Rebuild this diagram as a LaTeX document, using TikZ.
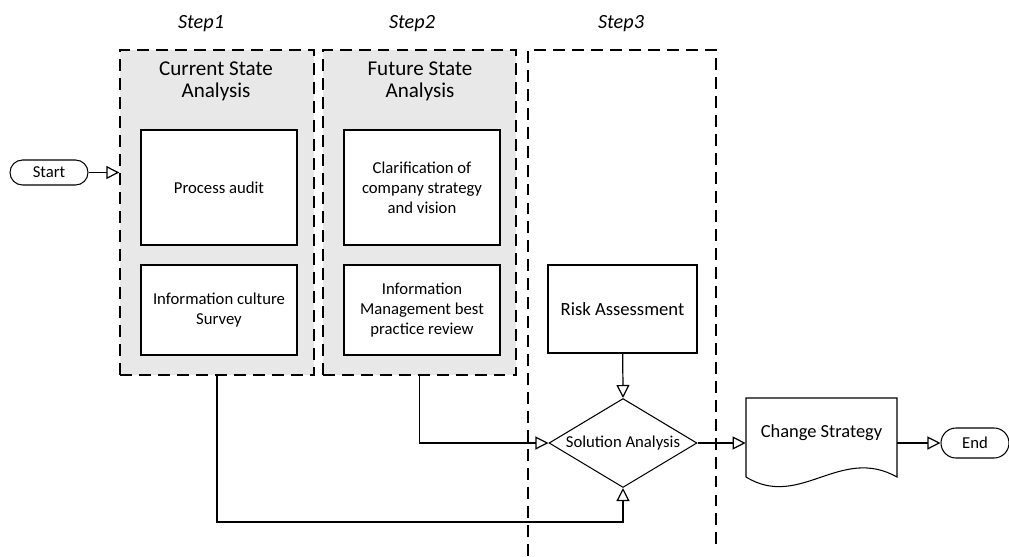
\documentclass[tikz,border=0pt]{standalone}
\usepackage{fontspec}
\setmainfont{Carlito}
\usetikzlibrary{shapes.geometric, arrows.meta}
\definecolor{panelgray}{RGB}{232,232,232}
\begin{document}
\begin{tikzpicture}[x = 0.02cm, y = -0.02cm,
    panel/.style = {draw, fill = panelgray, line width = 1.1pt, dash pattern = on 6.8pt off 4pt, inner sep = 0pt, minimum width = 3.87cm, minimum height = 6.5cm},
    dashline/.style = {line width = 1.1pt, dash pattern = on 6.8pt off 4pt},
    task/.style = {draw, fill = white, line width = 0.9pt, inner sep = 0pt, align = center, minimum width = 3.12cm, font = \fontsize{9.5}{11.3}\selectfont},
    terminal/.style = {draw, line width = 0.6pt, inner sep = 0pt, font = \fontsize{9.5}{11}\selectfont},
    arr/.style = {line width = 0.7pt, -{Triangle[open, length = 0.26cm, width = 0.26cm]}},
    steplabel/.style = {anchor = base, font = \fontsize{11.5}{13}\selectfont\itshape},
    heading/.style = {align = center, font = \fontsize{12}{12.5}\selectfont}]
    \useasboundingbox (0, 0) rectangle (1009, 556);
    % panels
    \node [panel] (cur) at (217, 212.5) {};
    \node [panel] (fut) at (419.5, 212.5) {};
    \draw [dashline] (528, 556) -- (528, 50) -- (716, 50) -- (716, 550);
    \node [steplabel] (s1) at (201, 28.5) {Step1};
    \node [steplabel] (s2) at (412, 28.5) {Step2};
    \node [steplabel] (s3) at (621, 28.5) {Step3};
    \node [heading] (curtitle) at (216, 81) {Current State\\Analysis};
    \node [heading] (futtitle) at (420, 81) {Future State\\Analysis};
    % tasks
    \node [task, minimum height = 2.3cm] (audit) at (219, 187.5) {Process audit};
    \node [task, minimum height = 1.8cm] (survey) at (219, 310) {Information culture\\Survey};
    \node [task, minimum height = 2.3cm] (vision) at (422, 187.5) {Clarification of\\company strategy\\and vision};
    \node [task, minimum height = 1.8cm] (review) at (422, 310) {Information\\Management best\\practice review};
    \node [draw, line width = 0.6pt, minimum width = 2.98cm, minimum height = 1.76cm, font = \fontsize{10.6}{13}\selectfont] (risk) at (622.5, 309) {Risk Assessment};
    \node [diamond, draw, line width = 0.6pt, inner sep = 0pt, shape aspect = 1.66, minimum width = 2.96cm, minimum height = 1.78cm, font = \fontsize{9.5}{12}\selectfont] (sa) at (623, 443) {Solution Analysis};
    % document shape
    \node [minimum width = 3.02cm, minimum height = 1.8cm, inner sep = 0pt, label = {[yshift = 0.2cm, font = \fontsize{10.5}{13}\selectfont]center:Change Strategy}] (cs) at (821.5, 443) {};
    \draw [line width = 0.6pt] (746, 477) -- (746, 398) -- (897, 398) -- (897, 477)
        .. controls (840, 445) and (800, 510) .. (746, 477);
    \node [terminal, rounded corners = 0.25cm, minimum width = 1.56cm, minimum height = 0.5cm] (start) at (49, 172.5) {Start};
    \node [terminal, rounded corners = 0.3cm, minimum width = 1.36cm, minimum height = 0.6cm] (end) at (975, 443) {End};
    \coordinate (bend) at (623, 522);
    % connectors
    \draw [arr] (start) -- (start -| cur.west);
    \draw [arr] (risk) -- (sa.north);
    \draw [arr] (fut.south) |- (sa.west);
    \draw [arr] (cur.south) |- (bend) -- (sa.south);
    \draw [arr] (sa.east) -- (cs.west);
    \draw [arr] (cs.east) -- (end);
\end{tikzpicture}
\end{document}
